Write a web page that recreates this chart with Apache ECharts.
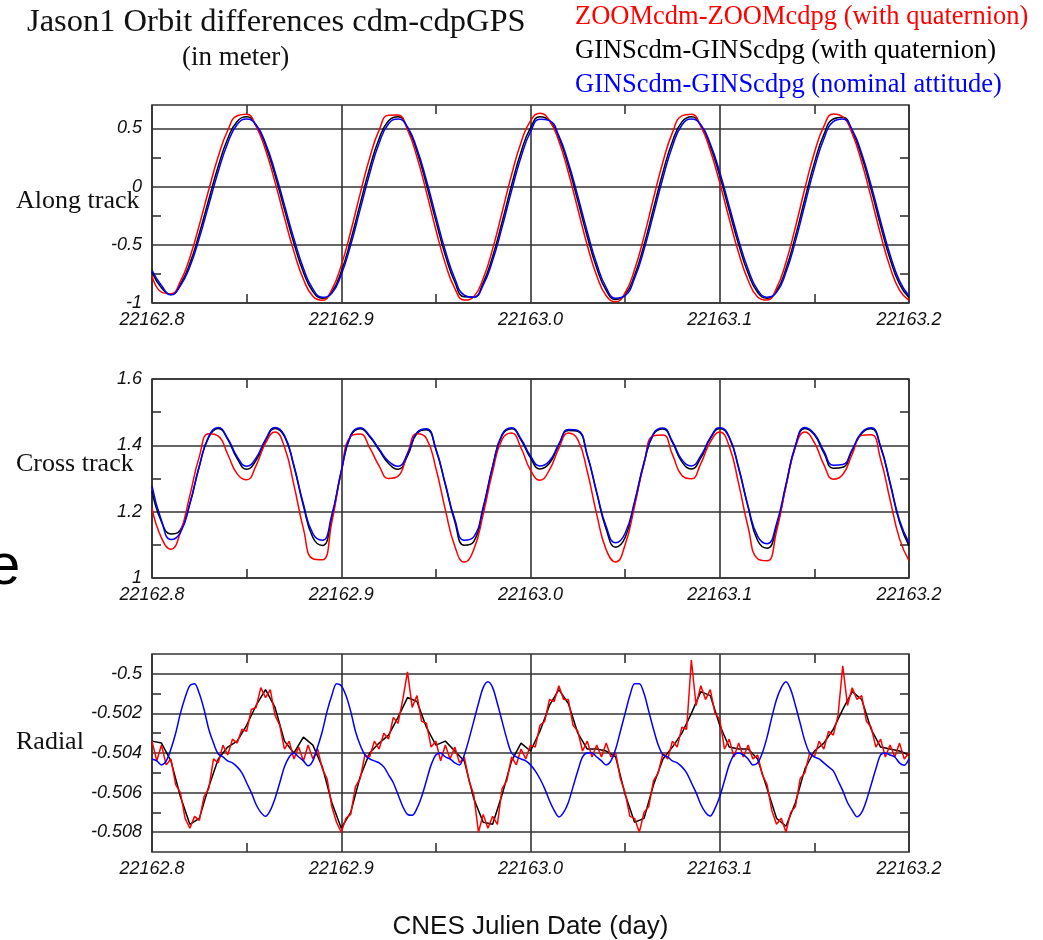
<!DOCTYPE html>
<html lang="en">
<head>
<meta charset="utf-8" />
<title>Jason1 Orbit differences cdm-cdpGPS</title>
<script src="https://cdn.jsdelivr.net/npm/echarts@6/dist/echarts.min.js"></script>
<style>
  html, body { margin: 0; background: #fff; }
  #chart { width: 1043px; height: 940px; }
</style>
</head>
<body>
<div id="chart"></div>
<script>
// sampling times (CNES Julian day) for along / cross track and the black radial curve
const days = [
  22162.800, 22162.805, 22162.810, 22162.815, 22162.820, 22162.825, 22162.830, 22162.835, 22162.840, 22162.845,
  22162.850, 22162.855, 22162.860, 22162.865, 22162.870, 22162.875, 22162.880, 22162.885, 22162.890, 22162.895,
  22162.900, 22162.905, 22162.910, 22162.915, 22162.920, 22162.925, 22162.930, 22162.935, 22162.940, 22162.945,
  22162.950, 22162.955, 22162.960, 22162.965, 22162.970, 22162.975, 22162.980, 22162.985, 22162.990, 22162.995,
  22163.000, 22163.005, 22163.010, 22163.015, 22163.020, 22163.025, 22163.030, 22163.035, 22163.040, 22163.045,
  22163.050, 22163.055, 22163.060, 22163.065, 22163.070, 22163.075, 22163.080, 22163.085, 22163.090, 22163.095,
  22163.100, 22163.105, 22163.110, 22163.115, 22163.120, 22163.125, 22163.130, 22163.135, 22163.140, 22163.145,
  22163.150, 22163.155, 22163.160, 22163.165, 22163.170, 22163.175, 22163.180, 22163.185, 22163.190, 22163.195,
  22163.200
];

// finer times for the noisy radial curves
const radialDays = [
  22162.8000, 22162.8025, 22162.8050, 22162.8075, 22162.8100, 22162.8125, 22162.8150, 22162.8175, 22162.8200, 22162.8225,
  22162.8250, 22162.8275, 22162.8300, 22162.8325, 22162.8350, 22162.8375, 22162.8400, 22162.8425, 22162.8450, 22162.8475,
  22162.8500, 22162.8525, 22162.8550, 22162.8575, 22162.8600, 22162.8625, 22162.8650, 22162.8675, 22162.8700, 22162.8725,
  22162.8750, 22162.8775, 22162.8800, 22162.8825, 22162.8850, 22162.8875, 22162.8900, 22162.8925, 22162.8950, 22162.8975,
  22162.9000, 22162.9025, 22162.9050, 22162.9075, 22162.9100, 22162.9125, 22162.9150, 22162.9175, 22162.9200, 22162.9225,
  22162.9250, 22162.9275, 22162.9300, 22162.9325, 22162.9350, 22162.9375, 22162.9400, 22162.9425, 22162.9450, 22162.9475,
  22162.9500, 22162.9525, 22162.9550, 22162.9575, 22162.9600, 22162.9625, 22162.9650, 22162.9675, 22162.9700, 22162.9725,
  22162.9750, 22162.9775, 22162.9800, 22162.9825, 22162.9850, 22162.9875, 22162.9900, 22162.9925, 22162.9950, 22162.9975,
  22163.0000, 22163.0025, 22163.0050, 22163.0075, 22163.0100, 22163.0125, 22163.0150, 22163.0175, 22163.0200, 22163.0225,
  22163.0250, 22163.0275, 22163.0300, 22163.0325, 22163.0350, 22163.0375, 22163.0400, 22163.0425, 22163.0450, 22163.0475,
  22163.0500, 22163.0525, 22163.0550, 22163.0575, 22163.0600, 22163.0625, 22163.0650, 22163.0675, 22163.0700, 22163.0725,
  22163.0750, 22163.0775, 22163.0800, 22163.0825, 22163.0850, 22163.0875, 22163.0900, 22163.0925, 22163.0950, 22163.0975,
  22163.1000, 22163.1025, 22163.1050, 22163.1075, 22163.1100, 22163.1125, 22163.1150, 22163.1175, 22163.1200, 22163.1225,
  22163.1250, 22163.1275, 22163.1300, 22163.1325, 22163.1350, 22163.1375, 22163.1400, 22163.1425, 22163.1450, 22163.1475,
  22163.1500, 22163.1525, 22163.1550, 22163.1575, 22163.1600, 22163.1625, 22163.1650, 22163.1675, 22163.1700, 22163.1725,
  22163.1750, 22163.1775, 22163.1800, 22163.1825, 22163.1850, 22163.1875, 22163.1900, 22163.1925, 22163.1950, 22163.1975,
  22163.2000
];

// Along track (m)
const alongRed = [
  -0.766, -0.906, -0.920, -0.815, -0.609, -0.330, -0.028, 0.257, 0.481, 0.608,
  0.621, 0.517, 0.314, 0.038, -0.268, -0.559, -0.796, -0.942, -0.977, -0.885,
  -0.677, -0.386, -0.061, 0.245, 0.484, 0.613, 0.614, 0.487, 0.254, -0.048,
  -0.371, -0.662, -0.875, -0.975, -0.946, -0.790, -0.535, -0.221, 0.101, 0.379,
  0.564, 0.630, 0.567, 0.389, 0.121, -0.193, -0.504, -0.766, -0.938, -0.990,
  -0.912, -0.713, -0.428, -0.101, 0.213, 0.463, 0.606, 0.620, 0.516, 0.309,
  0.031, -0.277, -0.570, -0.805, -0.948, -0.975, -0.872, -0.650, -0.347, -0.015,
  0.290, 0.516, 0.623, 0.599, 0.453, 0.208, -0.095, -0.412, -0.692, -0.890,
  -0.978
];
const alongBlack = [
  -0.736, -0.870, -0.926, -0.839, -0.661, -0.403, -0.112, 0.174, 0.410, 0.559,
  0.600, 0.525, 0.351, 0.097, -0.198, -0.487, -0.735, -0.901, -0.959, -0.906,
  -0.729, -0.461, -0.149, 0.157, 0.411, 0.565, 0.600, 0.503, 0.300, 0.018,
  -0.295, -0.590, -0.820, -0.947, -0.949, -0.827, -0.600, -0.304, 0.011, 0.297,
  0.503, 0.600, 0.566, 0.419, 0.176, -0.122, -0.429, -0.700, -0.892, -0.970,
  -0.928, -0.762, -0.501, -0.189, 0.124, 0.387, 0.555, 0.600, 0.525, 0.347,
  0.090, -0.206, -0.499, -0.744, -0.908, -0.959, -0.896, -0.706, -0.426, -0.105,
  0.203, 0.446, 0.580, 0.595, 0.474, 0.257, -0.027, -0.337, -0.622, -0.838,
  -0.953
];
const alongBlue = [
  -0.720, -0.850, -0.930, -0.852, -0.689, -0.442, -0.157, 0.129, 0.372, 0.532,
  0.580, 0.530, 0.371, 0.128, -0.160, -0.449, -0.702, -0.879, -0.950, -0.917,
  -0.757, -0.502, -0.196, 0.110, 0.371, 0.539, 0.580, 0.512, 0.324, 0.054,
  -0.254, -0.552, -0.790, -0.932, -0.950, -0.847, -0.635, -0.349, -0.037, 0.253,
  0.470, 0.578, 0.566, 0.435, 0.206, -0.083, -0.388, -0.664, -0.867, -0.959,
  -0.937, -0.788, -0.541, -0.236, 0.076, 0.346, 0.528, 0.580, 0.530, 0.367,
  0.122, -0.168, -0.460, -0.711, -0.887, -0.950, -0.909, -0.736, -0.469, -0.154,
  0.156, 0.408, 0.557, 0.580, 0.486, 0.283, 0.009, -0.297, -0.585, -0.810,
  -0.940
];

// Cross track (m)
const crossRed = [
  1.210, 1.121, 1.087, 1.138, 1.249, 1.366, 1.435, 1.428, 1.373, 1.314,
  1.296, 1.339, 1.407, 1.440, 1.395, 1.280, 1.149, 1.058, 1.055, 1.168,
  1.320, 1.427, 1.434, 1.393, 1.338, 1.300, 1.307, 1.376, 1.435, 1.421,
  1.331, 1.206, 1.096, 1.048, 1.085, 1.192, 1.321, 1.418, 1.437, 1.392,
  1.325, 1.295, 1.326, 1.391, 1.437, 1.417, 1.321, 1.192, 1.085, 1.048,
  1.100, 1.217, 1.346, 1.429, 1.431, 1.372, 1.309, 1.299, 1.345, 1.410,
  1.440, 1.397, 1.284, 1.153, 1.058, 1.052, 1.141, 1.276, 1.395, 1.440,
  1.408, 1.342, 1.298, 1.312, 1.373, 1.430, 1.432, 1.358, 1.236, 1.118,
  1.052
];
const crossBlack = [
  1.262, 1.170, 1.133, 1.145, 1.225, 1.337, 1.425, 1.451, 1.418, 1.360,
  1.328, 1.355, 1.414, 1.451, 1.427, 1.336, 1.218, 1.122, 1.098, 1.183,
  1.320, 1.428, 1.450, 1.426, 1.386, 1.345, 1.328, 1.368, 1.436, 1.447,
  1.387, 1.281, 1.170, 1.099, 1.110, 1.208, 1.335, 1.430, 1.450, 1.416,
  1.362, 1.329, 1.346, 1.401, 1.445, 1.442, 1.369, 1.256, 1.147, 1.093,
  1.122, 1.226, 1.346, 1.433, 1.449, 1.409, 1.350, 1.329, 1.362, 1.420,
  1.451, 1.423, 1.330, 1.213, 1.113, 1.090, 1.153, 1.279, 1.397, 1.451,
  1.432, 1.377, 1.331, 1.334, 1.385, 1.436, 1.450, 1.394, 1.285, 1.168,
  1.097
];
const crossBlue = [
  1.278, 1.173, 1.116, 1.137, 1.223, 1.337, 1.427, 1.454, 1.421, 1.366,
  1.337, 1.362, 1.418, 1.454, 1.430, 1.339, 1.223, 1.134, 1.114, 1.190,
  1.323, 1.431, 1.453, 1.429, 1.389, 1.352, 1.337, 1.374, 1.439, 1.450,
  1.390, 1.284, 1.177, 1.114, 1.124, 1.214, 1.338, 1.433, 1.453, 1.419,
  1.368, 1.338, 1.353, 1.404, 1.448, 1.445, 1.372, 1.259, 1.155, 1.106,
  1.135, 1.231, 1.349, 1.436, 1.452, 1.412, 1.357, 1.338, 1.369, 1.423,
  1.454, 1.426, 1.333, 1.216, 1.126, 1.103, 1.164, 1.283, 1.400, 1.454,
  1.435, 1.383, 1.340, 1.342, 1.388, 1.439, 1.453, 1.397, 1.288, 1.174,
  1.106
];

// Radial (m)
const radialRed = [
  -0.5034, -0.5044, -0.5036, -0.5046, -0.5043, -0.5056, -0.5060, -0.5073, -0.5078, -0.5072,
  -0.5074, -0.5062, -0.5058, -0.5043, -0.5045, -0.5036, -0.5041, -0.5033, -0.5035, -0.5028,
  -0.5029, -0.5018, -0.5017, -0.5007, -0.5012, -0.5008, -0.5021, -0.5026, -0.5038, -0.5034,
  -0.5043, -0.5037, -0.5044, -0.5036, -0.5043, -0.5038, -0.5048, -0.5053, -0.5067, -0.5075,
  -0.5080, -0.5073, -0.5071, -0.5057, -0.5053, -0.5041, -0.5042, -0.5034, -0.5038, -0.5030,
  -0.5033, -0.5022, -0.5025, -0.5013, -0.4999, -0.5017, -0.5011, -0.5024, -0.5025, -0.5037,
  -0.5034, -0.5044, -0.5036, -0.5043, -0.5037, -0.5045, -0.5042, -0.5054, -0.5061, -0.5080,
  -0.5071, -0.5078, -0.5072, -0.5076, -0.5058, -0.5054, -0.5042, -0.5046, -0.5038, -0.5043,
  -0.5036, -0.5037, -0.5026, -0.5024, -0.5013, -0.5014, -0.5006, -0.5013, -0.5013, -0.5026,
  -0.5029, -0.5039, -0.5034, -0.5042, -0.5036, -0.5042, -0.5035, -0.5042, -0.5040, -0.5053,
  -0.5060, -0.5072, -0.5073, -0.5080, -0.5070, -0.5067, -0.5054, -0.5050, -0.5040, -0.5043,
  -0.5034, -0.5037, -0.5027, -0.5028, -0.4993, -0.5016, -0.5006, -0.5013, -0.5008, -0.5020,
  -0.5023, -0.5038, -0.5033, -0.5042, -0.5035, -0.5042, -0.5036, -0.5043, -0.5041, -0.5051,
  -0.5056, -0.5069, -0.5076, -0.5073, -0.5080, -0.5070, -0.5067, -0.5053, -0.5050, -0.5040,
  -0.5042, -0.5034, -0.5038, -0.5029, -0.5031, -0.5021, -0.4996, -0.5016, -0.5007, -0.5013,
  -0.5011, -0.5024, -0.5027, -0.5037, -0.5033, -0.5042, -0.5036, -0.5042, -0.5035, -0.5043,
  -0.5040
];
const radialBlack = [
  -0.5034, -0.5035, -0.5044, -0.5062, -0.5076, -0.5073, -0.5057, -0.5043, -0.5037, -0.5034,
  -0.5026, -0.5016, -0.5008, -0.5017, -0.5034, -0.5040, -0.5032, -0.5036, -0.5047, -0.5065,
  -0.5078, -0.5070, -0.5052, -0.5040, -0.5035, -0.5031, -0.5022, -0.5012, -0.5014, -0.5027,
  -0.5036, -0.5034, -0.5039, -0.5044, -0.5063, -0.5075, -0.5076, -0.5061, -0.5044, -0.5035,
  -0.5039, -0.5029, -0.5016, -0.5008, -0.5015, -0.5030, -0.5038, -0.5038, -0.5039, -0.5042,
  -0.5061, -0.5075, -0.5073, -0.5056, -0.5043, -0.5037, -0.5030, -0.5020, -0.5009, -0.5011,
  -0.5026, -0.5037, -0.5038, -0.5038, -0.5043, -0.5058, -0.5073, -0.5077, -0.5065, -0.5048,
  -0.5039, -0.5035, -0.5028, -0.5018, -0.5009, -0.5013, -0.5028, -0.5037, -0.5038, -0.5039,
  -0.5041
];
const radialBlue = [
  -0.5043, -0.5044, -0.5046, -0.5044, -0.5038, -0.5030, -0.5020, -0.5012, -0.5006, -0.5005,
  -0.5010, -0.5018, -0.5028, -0.5035, -0.50405, -0.5042, -0.5044, -0.5045, -0.5047, -0.5050,
  -0.5055, -0.5060, -0.5066, -0.5070, -0.5072, -0.5069, -0.5063, -0.5055, -0.5047, -0.5042,
  -0.5040, -0.5042, -0.5044, -0.50465, -0.5044, -0.5037, -0.5029, -0.5019, -0.5011, -0.5005,
  -0.5006, -0.5011, -0.5019, -0.5029, -0.5036, -0.5041, -0.5043, -0.5044, -0.5045, -0.5047,
  -0.5051, -0.5055, -0.5061, -0.5067, -0.5071, -0.50715, -0.5068, -0.5062, -0.5054, -0.5046,
  -0.5041, -0.5040, -0.5042, -0.5043, -0.5045, -0.5046, -0.5041, -0.5033, -0.5024, -0.5015,
  -0.5007, -0.5004, -0.5007, -0.5015, -0.5024, -0.5033, -0.5040, -0.5042, -0.5043, -0.5044,
  -0.5046, -0.5049, -0.5053, -0.5058, -0.5064, -0.5069, -0.50723, -0.5070, -0.5065, -0.5057,
  -0.5049, -0.5042, -0.5040, -0.5040, -0.5042, -0.5044, -0.5046, -0.5044, -0.5038, -0.5029,
  -0.5020, -0.5011, -0.5005, -0.5005, -0.5010, -0.5019, -0.5028, -0.5036, -0.5041, -0.5042,
  -0.5044, -0.5045, -0.5047, -0.5050, -0.5055, -0.5060, -0.5066, -0.5070, -0.50718, -0.5068,
  -0.5062, -0.5054, -0.5046, -0.5041, -0.5040, -0.5041, -0.5043, -0.5046, -0.5045, -0.5040,
  -0.5032, -0.5022, -0.5013, -0.5007, -0.5004, -0.5008, -0.5016, -0.5025, -0.5034, -0.5040,
  -0.5042, -0.5043, -0.5045, -0.5047, -0.5049, -0.5054, -0.5059, -0.5065, -0.5069, -0.50722,
  -0.5070, -0.5064, -0.5056, -0.5048, -0.5041, -0.5040, -0.5041, -0.5042, -0.5045, -0.50462,
  -0.5043
];

const seriesNames = [
  'ZOOMcdm-ZOOMcdpg (with quaternion)',
  'GINScdm-GINScdpg (with quaternion)',
  'GINScdm-GINScdpg (nominal attitude)'
];
const seriesColors = ['#ff0000', '#000000', '#0000ff'];

// x axis ticks
const xMin = 22162.8, xMax = 22163.2;
const xMajor = [22162.8, 22162.9, 22163.0, 22163.1, 22163.2];
const xMinor = [22162.85, 22162.95, 22163.05, 22163.15];

const panels = [
  { title: 'Along track', top: 105, height: 198, min: -1, max: 0.7,
    yMajor: [-1, -0.5, 0, 0.5], yMinor: [-0.75, -0.25, 0.25], labelY: 201,
    t: [days, days, days], v: [alongRed, alongBlack, alongBlue], smooth: true },
  { title: 'Cross track', top: 379, height: 199, min: 1, max: 1.6,
    yMajor: [1, 1.2, 1.4, 1.6], yMinor: [1.1, 1.3, 1.5], labelY: 464,
    t: [days, days, days], v: [crossRed, crossBlack, crossBlue], smooth: true },
  { title: 'Radial', top: 654, height: 198, min: -0.509, max: -0.499,
    yMajor: [-0.508, -0.506, -0.504, -0.502, -0.5], yMinor: [-0.507, -0.505, -0.503, -0.501], labelY: 742,
    t: [radialDays, days, radialDays], v: [radialRed, radialBlack, radialBlue], smooth: false }
];

const lineDark = { color: '#333', width: 1.6 };
const tickFont = { fontFamily: 'Liberation Sans', fontStyle: 'italic', fontSize: 18, color: '#111' };

function minorAxis(gi, pos, min, max, values) {
  return {
    type: 'value', gridIndex: gi, position: pos, min: min, max: max,
    axisLine: { show: false, onZero: false },
    axisLabel: { show: false },
    splitLine: { show: false },
    axisTick: { show: true, inside: true, length: 9, customValues: values, lineStyle: lineDark }
  };
}

const grids = [], xAxes = [], yAxes = [], series = [], texts = [];

panels.forEach((p, gi) => {
  grids.push({
    left: 152, width: 757, top: p.top, height: p.height,
    show: true, borderColor: '#333', borderWidth: 1.6,
    outerBoundsMode: 'none'
  });

  const xMain = {
    type: 'value', gridIndex: gi, position: 'bottom', min: xMin, max: xMax,
    axisLine: { show: false, onZero: false },
    axisTick: { show: false, customValues: xMajor },
    axisLabel: Object.assign({ customValues: xMajor, margin: 8, formatter: v => v.toFixed(1) }, tickFont),
    splitLine: { show: true, lineStyle: lineDark }
  };
  if (gi === panels.length - 1) {
    xMain.name = 'CNES Julien Date (day)';
    xMain.nameLocation = 'middle';
    xMain.nameGap = 62;
    xMain.nameTextStyle = { fontFamily: 'Liberation Sans', fontSize: 26, color: '#111' };
  }
  xAxes.push(xMain, minorAxis(gi, 'bottom', xMin, xMax, xMinor), minorAxis(gi, 'top', xMin, xMax, xMinor));

  yAxes.push({
    type: 'value', gridIndex: gi, position: 'left', min: p.min, max: p.max,
    axisLine: { show: false, onZero: false },
    axisTick: { show: false, customValues: p.yMajor },
    axisLabel: Object.assign({ customValues: p.yMajor, margin: 10, formatter: v => String(parseFloat(v.toFixed(4))) }, tickFont),
    splitLine: { show: true, lineStyle: lineDark }
  }, minorAxis(gi, 'left', p.min, p.max, p.yMinor), minorAxis(gi, 'right', p.min, p.max, p.yMinor));

  // draw black first, red over it, blue on top
  [1, 0, 2].forEach(si => {
    series.push({
      type: 'line', name: seriesNames[si],
      xAxisIndex: gi * 3, yAxisIndex: gi * 3,
      data: p.t[si].map((d, i) => [d, p.v[si][i]]),
      showSymbol: false, symbol: 'none',
      smooth: p.smooth ? true : (si === 2 ? 0.3 : false),
      lineStyle: { color: seriesColors[si], width: 1.5 },
      itemStyle: { color: seriesColors[si] },
      emphasis: { disabled: true },
      silent: true
    });
  });

  texts.push({
    type: 'text', x: 16, y: p.labelY,
    style: {
      text: p.title, fontFamily: 'Liberation Serif', fontSize: 26, fill: '#111',
      align: 'left', textAlign: 'left', verticalAlign: 'middle', textVerticalAlign: 'middle'
    }
  });
});

// stray glyph cut by the left edge of the picture
texts.push({
  type: 'text', x: -12, y: 568,
  style: {
    text: 'e', fontFamily: 'Liberation Sans', fontSize: 58, fill: '#000',
    align: 'left', textAlign: 'left', verticalAlign: 'middle', textVerticalAlign: 'middle'
  }
});

const chart = echarts.init(document.getElementById('chart'), null, { renderer: 'canvas' });
chart.setOption({
  backgroundColor: '#ffffff',
  animation: false,
  title: [
    { text: 'Jason1 Orbit differences cdm-cdpGPS', left: 27, top: 6, padding: 0,
      textStyle: { fontFamily: 'Liberation Serif', fontSize: 32.5, fontWeight: 'normal', color: '#111' } },
    { text: '(in meter)', left: 182, top: 44, padding: 0,
      textStyle: { fontFamily: 'Liberation Serif', fontSize: 27, fontWeight: 'normal', color: '#111' } }
  ],
  legend: {
    orient: 'vertical', left: 570, top: 4, padding: 0,
    icon: 'rect', itemWidth: 0, itemHeight: 0, itemGap: 7,
    selectedMode: false,
    textStyle: { fontFamily: 'Liberation Serif', fontSize: 26.5 },
    data: seriesNames.map((n, i) => ({ name: n, textStyle: { color: seriesColors[i] } }))
  },
  grid: grids,
  xAxis: xAxes,
  yAxis: yAxes,
  series: series,
  graphic: texts
});
</script>
</body>
</html>
